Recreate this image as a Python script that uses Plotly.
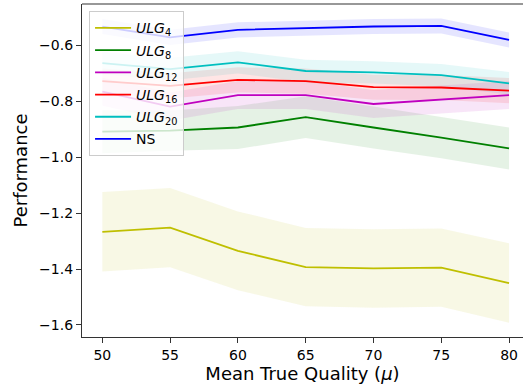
import plotly.graph_objects as go

mu = [50, 55, 60, 65, 70, 75, 80]

ulg4 = [-1.267, -1.252, -1.335, -1.393, -1.398, -1.395, -1.450]
ulg4_err = [0.142, 0.142, 0.141, 0.140, 0.140, 0.140, 0.142]
ulg8 = [-0.909, -0.905, -0.894, -0.857, -0.894, -0.930, -0.969]
ulg8_err = [0.077, 0.072, 0.077, 0.075, 0.075, 0.074, 0.075]
ulg12 = [-0.766, -0.819, -0.778, -0.778, -0.810, -0.795, -0.778]
ulg12_err = [0.05, 0.05, 0.05, 0.05, 0.05, 0.05, 0.05]
ulg16 = [-0.728, -0.745, -0.724, -0.728, -0.750, -0.751, -0.762]
ulg16_err = [0.045, 0.045, 0.045, 0.045, 0.045, 0.045, 0.045]
ulg20 = [-0.664, -0.685, -0.661, -0.692, -0.697, -0.707, -0.736]
ulg20_err = [0.04, 0.04, 0.04, 0.04, 0.04, 0.04, 0.04]
ns = [-0.533, -0.572, -0.545, -0.538, -0.533, -0.531, -0.581]
ns_err = [0.027, 0.027, 0.027, 0.027, 0.027, 0.027, 0.027]

series = [
    ("<i>ULG</i><sub>4</sub>", ulg4, ulg4_err, (191, 191, 0)),
    ("<i>ULG</i><sub>8</sub>", ulg8, ulg8_err, (0, 128, 0)),
    ("<i>ULG</i><sub>12</sub>", ulg12, ulg12_err, (191, 0, 191)),
    ("<i>ULG</i><sub>16</sub>", ulg16, ulg16_err, (255, 0, 0)),
    ("<i>ULG</i><sub>20</sub>", ulg20, ulg20_err, (0, 191, 191)),
    ("NS", ns, ns_err, (0, 0, 255)),
]

fig = go.Figure()
for name, vals, err, c in series:
    up = [v + e for v, e in zip(vals, err)]
    lo = [v - e for v, e in zip(vals, err)]
    fig.add_trace(go.Scatter(
        x=mu + mu[::-1], y=up + lo[::-1], fill="toself",
        fillcolor=f"rgba({c[0]},{c[1]},{c[2]},0.1)",
        line=dict(width=0), mode="lines", showlegend=False, hoverinfo="skip"))
for i, (name, vals, err, c) in enumerate(series):
    fig.add_trace(go.Scatter(
        x=mu, y=vals, mode="lines", name=name, legendgroup=f"g{i}",
        line=dict(color=f"rgb({c[0]},{c[1]},{c[2]})", width=1.8)))

axcol = "#333333"
yt = [-0.6, -0.8, -1.0, -1.2, -1.4, -1.6]
fig.update_layout(
    width=523, height=389,
    margin=dict(l=82, r=0, t=4, b=52),
    paper_bgcolor="white", plot_bgcolor="white",
    font=dict(family="DejaVu Sans", color="black", size=14),
    showlegend=True,
    legend=dict(x=0.016, y=0.978, xanchor="left", yanchor="top",
                bgcolor="rgba(255,255,255,0.8)", bordercolor="#cccccc",
                borderwidth=1, font=dict(size=14), tracegroupgap=1,
                itemwidth=36),
    xaxis=dict(range=[48.5, 81.03], tickvals=mu, ticks="outside", ticklen=5,
               tickcolor=axcol, showline=True, linecolor=axcol, linewidth=1.2,
               showgrid=False, zeroline=False, automargin=False,
               tickfont=dict(size=14),
               title=dict(text="Mean True Quality (<i>μ</i>)", font=dict(size=18), standoff=5)),
    yaxis=dict(range=[-1.643, -0.4525], tickvals=yt,
               ticktext=["−0.6", "−0.8", "−1.0", "−1.2", "−1.4", "−1.6"],
               ticks="outside", ticklen=5, tickcolor=axcol,
               showline=True, linecolor=axcol, linewidth=1.2,
               showgrid=False, zeroline=False, automargin=False,
               tickfont=dict(size=14),
               title=dict(text="Performance", font=dict(size=18), standoff=6)),
    shapes=[dict(type="line", xref="paper", yref="paper", x0=0, x1=1, y0=1, y1=1,
                 line=dict(color=axcol, width=1.2))],
)
fig.write_html("out.html", config={"displayModeBar": False},
               post_script="document.body.style.margin='0';document.body.style.overflow='hidden';")
